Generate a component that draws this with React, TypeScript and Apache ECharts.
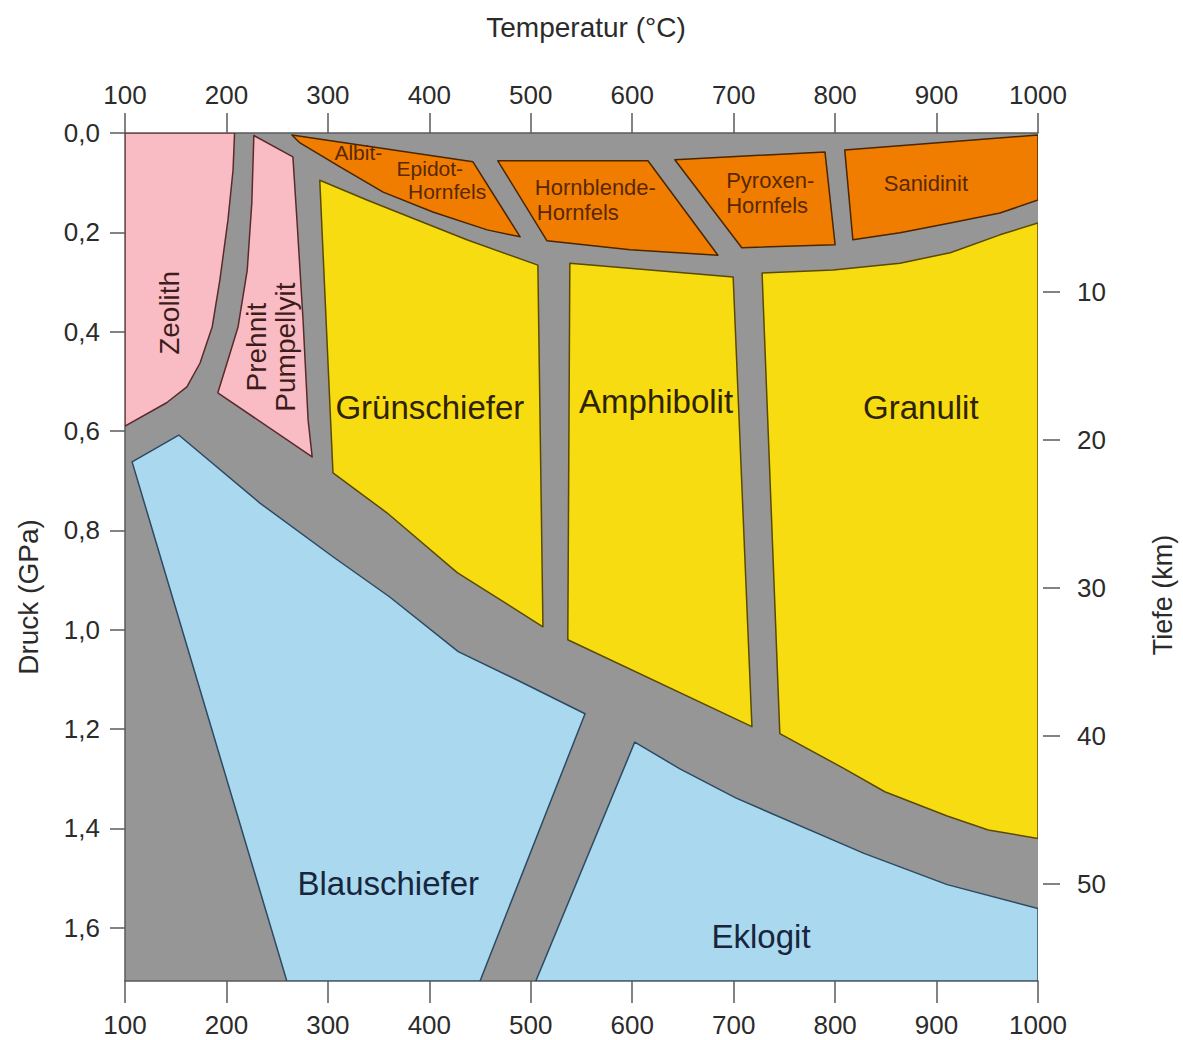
import React, { useEffect, useRef } from "react";
import * as echarts from "echarts";

// ---------- axes ----------
const temperatureTicks = [100, 200, 300, 400, 500, 600, 700, 800, 900, 1000];
const pressureTicks = [0, 0.2, 0.4, 0.6, 0.8, 1.0, 1.2, 1.4, 1.6];
const depthTicks = [10, 20, 30, 40, 50];
const temperatureRange = [100, 1000];
const pressureRange = [0, 1.707];
const depthRange = [-0.74, 56.55];

// ---------- facies fields: [temperature °C, pressure GPa] ----------
const zeolith = [[100, 0], [208, 0], [206.5, 0.075], [201.5, 0.175], [193.5, 0.296], [186, 0.39], [174, 0.463], [161, 0.511], [141, 0.543], [100, 0.59]];
const prehnitPumpellyit = [[227, 0.005], [265.5, 0.048], [269.5, 0.175], [275.5, 0.376], [280.5, 0.578], [284.5, 0.652], [191.5, 0.523], [201.5, 0.457], [211.5, 0.39], [220.5, 0.276], [225, 0.141]];
const albitEpidotHornfels = [[264.5, 0.004], [443, 0.058], [489.5, 0.209], [457, 0.195], [403.5, 0.159], [354.5, 0.119], [312, 0.068], [272.5, 0.02]];
const hornblendeHornfels = [[467.5, 0.056], [615.5, 0.056], [684.5, 0.246], [598, 0.235], [516, 0.217]];
const pyroxenHornfels = [[642, 0.054], [790, 0.038], [800, 0.225], [708, 0.231]];
const sanidinit = [[809.5, 0.034], [1000, 0.004], [1000, 0.135], [962.5, 0.161], [913.5, 0.181], [864, 0.201], [817.5, 0.215]];
const gruenschiefer = [[292, 0.095], [338.5, 0.135], [388, 0.175], [437, 0.215], [507, 0.266], [512, 0.994], [427.5, 0.885], [358.5, 0.765], [305, 0.684]];
const amphibolit = [[538.5, 0.262], [699.5, 0.29], [718, 1.195], [536.5, 1.02]];
const granulit = [[728, 0.282], [798, 0.276], [864, 0.262], [913.5, 0.241], [962.5, 0.205], [1000, 0.181], [1000, 1.42], [951, 1.403], [910.5, 1.375], [849, 1.326], [808.5, 1.279], [745.5, 1.209]];
const blauschiefer = [[153, 0.608], [233, 0.745], [305, 0.853], [361, 0.934], [428.5, 1.044], [486.5, 1.101], [553.5, 1.169], [450, 1.707], [259.5, 1.707], [107, 0.662]];
const eklogit = [[602.5, 1.226], [647, 1.28], [702.5, 1.339], [828.5, 1.45], [910.5, 1.513], [1000, 1.561], [1000, 1.707], [505, 1.707]];

// ---------- field labels: text and anchor [temperature, pressure] ----------
const zeolithLabels = [{ text: "Zeolith", at: [144, 0.362] }];
const prehnitLabels = [{ text: "Prehnit\nPumpellyit", at: [244, 0.431] }];
const albitLabels = [
  { text: "Albit-", at: [330, 0.04] },
  { text: "Epidot-", at: [400.5, 0.071] },
  { text: "Hornfels", at: [417.5, 0.118] },
];
const hornblendeLabels = [
  { text: "Hornblende-", at: [504, 0.109] },
  { text: "Hornfels", at: [506, 0.161] },
];
const pyroxenLabels = [
  { text: "Pyroxen-", at: [736, 0.095] },
  { text: "Hornfels", at: [733, 0.145] },
];
const sanidinitLabels = [{ text: "Sanidinit", at: [889.5, 0.101] }];
const gruenLabels = [{ text: "Grünschiefer", at: [400.5, 0.553] }];
const amphibolitLabels = [{ text: "Amphibolit", at: [623.5, 0.541] }];
const granulitLabels = [{ text: "Granulit", at: [884.5, 0.553] }];
const blauLabels = [{ text: "Blauschiefer", at: [359.5, 1.511] }];
const eklogitLabels = [{ text: "Eklogit", at: [727, 1.618] }];

// ---------- styles ----------
const FONT = "'Liberation Sans', Arial, Helvetica, sans-serif";
const GRAY = "#969696";
const PINK = { fill: "#f9bcc4", stroke: "#5a2a2a", text: "#3d1c1c" };
const ORANGE = { fill: "#f07d00", stroke: "#4a2500", text: "#5a2800" };
const YELLOW = { fill: "#f8dc12", stroke: "#5a4a00", text: "#2e2300" };
const BLUE = { fill: "#aad8ef", stroke: "#2c4a62", text: "#17263c" };

const regions = [
  { name: "Zeolith", pts: zeolith, c: PINK, labels: zeolithLabels, size: 28, rotate: true, align: "center" },
  { name: "Prehnit-Pumpellyit", pts: prehnitPumpellyit, c: PINK, labels: prehnitLabels, size: 28, rotate: true, align: "center" },
  { name: "Albit-Epidot-Hornfels", pts: albitEpidotHornfels, c: ORANGE, labels: albitLabels, size: 21, rotate: false, align: "center" },
  { name: "Hornblende-Hornfels", pts: hornblendeHornfels, c: ORANGE, labels: hornblendeLabels, size: 22, rotate: false, align: "left" },
  { name: "Pyroxen-Hornfels", pts: pyroxenHornfels, c: ORANGE, labels: pyroxenLabels, size: 22, rotate: false, align: "center" },
  { name: "Sanidinit", pts: sanidinit, c: ORANGE, labels: sanidinitLabels, size: 22, rotate: false, align: "center" },
  { name: "Grünschiefer", pts: gruenschiefer, c: YELLOW, labels: gruenLabels, size: 33, rotate: false, align: "center" },
  { name: "Amphibolit", pts: amphibolit, c: YELLOW, labels: amphibolitLabels, size: 33, rotate: false, align: "center" },
  { name: "Granulit", pts: granulit, c: YELLOW, labels: granulitLabels, size: 33, rotate: false, align: "center" },
  { name: "Blauschiefer", pts: blauschiefer, c: BLUE, labels: blauLabels, size: 33, rotate: false, align: "center" },
  { name: "Eklogit", pts: eklogit, c: BLUE, labels: eklogitLabels, size: 33, rotate: false, align: "center" },
];

const fmtP = (v: number) => v.toFixed(1).replace(".", ",");
const fmtT = (v: number) => String(Math.round(v));

export default function App() {
  const ref = useRef<HTMLDivElement>(null);

  useEffect(() => {
    document.body.style.margin = "0";
    if (!ref.current) return;
    const chart = echarts.init(ref.current, null, { renderer: "svg" });

    const axisLineStyle = { color: "#5a5a5a", width: 1.5 };
    const tickLabel = { fontSize: 26, color: "#2b2b2b", fontFamily: FONT };

    chart.setOption({
      animation: false,
      backgroundColor: "#ffffff",
      grid: {
        left: 125,
        top: 133,
        width: 913,
        height: 848,
        show: true,
        backgroundColor: GRAY,
        borderWidth: 0,
      },
      xAxis: [
        {
          type: "value",
          position: "bottom",
          min: temperatureRange[0],
          max: temperatureRange[1],
          interval: 100,
          axisLine: { show: true, onZero: false, lineStyle: axisLineStyle },
          axisTick: { show: true, inside: false, length: 22, lineStyle: axisLineStyle, customValues: temperatureTicks },
          axisLabel: { ...tickLabel, margin: 31, customValues: temperatureTicks, formatter: (v: number) => fmtT(v) },
          splitLine: { show: false },
        },
        {
          type: "value",
          position: "top",
          min: temperatureRange[0],
          max: temperatureRange[1],
          interval: 100,
          axisLine: { show: true, onZero: false, lineStyle: axisLineStyle },
          axisTick: { show: true, inside: false, length: 20, lineStyle: axisLineStyle, customValues: temperatureTicks },
          axisLabel: { ...tickLabel, margin: 25, customValues: temperatureTicks, formatter: (v: number) => fmtT(v) },
          splitLine: { show: false },
        },
      ],
      yAxis: [
        {
          type: "value",
          position: "left",
          inverse: true,
          min: pressureRange[0],
          max: pressureRange[1],
          axisLine: { show: true, onZero: false, lineStyle: axisLineStyle },
          axisTick: { show: true, length: 15, lineStyle: axisLineStyle, customValues: pressureTicks },
          axisLabel: { ...tickLabel, margin: 25, customValues: pressureTicks, formatter: (v: number) => fmtP(v) },
          splitLine: { show: false },
        },
        {
          type: "value",
          position: "right",
          inverse: true,
          offset: 5,
          min: depthRange[0],
          max: depthRange[1],
          axisLine: { show: false },
          axisTick: { show: true, length: 17, lineStyle: axisLineStyle, customValues: depthTicks },
          axisLabel: { ...tickLabel, margin: 34, customValues: depthTicks },
          splitLine: { show: false },
        },
      ],
      graphic: [
        {
          type: "text",
          x: 586,
          y: 27,
          style: { text: "Temperatur (°C)", fill: "#2b2b2b", font: `28px ${FONT}`, align: "center", verticalAlign: "middle" },
        },
        {
          type: "text",
          x: 28,
          y: 597,
          rotation: Math.PI / 2,
          style: { text: "Druck (GPa)", fill: "#2b2b2b", font: `28px ${FONT}`, align: "center", verticalAlign: "middle" },
        },
        {
          type: "text",
          x: 1163,
          y: 595,
          rotation: Math.PI / 2,
          style: { text: "Tiefe (km)", fill: "#2b2b2b", font: `27px ${FONT}`, align: "center", verticalAlign: "middle" },
        },
      ],
      series: [
        {
          type: "custom",
          xAxisIndex: 0,
          yAxisIndex: 0,
          clip: true,
          data: regions.map((r) => ({ name: r.name, value: r.labels[0].at })),
          renderItem: (params: any, api: any) => {
            const r = regions[params.dataIndex];
            const points = r.pts.map((p) => api.coord(p));
            const children: any[] = [
              {
                type: "polygon",
                shape: { points },
                style: { fill: r.c.fill, stroke: r.c.stroke, lineWidth: 1.5, lineJoin: "round" },
              },
            ];
            r.labels.forEach((l) => {
              const [x, y] = api.coord(l.at);
              children.push({
                type: "text",
                x,
                y,
                rotation: r.rotate ? Math.PI / 2 : 0,
                style: {
                  text: l.text,
                  fill: r.c.text,
                  font: `${r.size}px ${FONT}`,
                  align: r.align,
                  verticalAlign: "middle",
                  lineHeight: Math.round(r.size * 1.05),
                },
              });
            });
            return { type: "group", children };
          },
        },
      ],
    });

    return () => chart.dispose();
  }, []);

  return <div ref={ref} style={{ width: 1183, height: 1040 }} />;
}
